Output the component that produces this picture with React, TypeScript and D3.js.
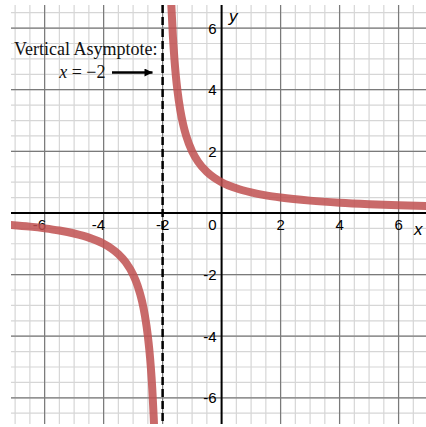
import React from "react";
import * as d3 from "d3";

const W = 426;
const H = 427;

// Data
const leftX = [-7.2, -6.5, -6, -5.5, -5, -4.5, -4, -3.75, -3.5, -3.25, -3, -2.85, -2.7, -2.6, -2.5, -2.45, -2.4, -2.35, -2.3, -2.27];
const leftY = [-0.385, -0.444, -0.5, -0.571, -0.667, -0.8, -1, -1.143, -1.333, -1.6, -2, -2.353, -2.857, -3.333, -4, -4.444, -5, -5.714, -6.667, -7.407];
const rightX = [-1.72, -1.7, -1.65, -1.6, -1.55, -1.5, -1.4, -1.3, -1.2, -1, -0.8, -0.5, -0.25, 0, 0.5, 1, 1.5, 2, 3, 4, 5, 6, 7];
const rightY = [7.143, 6.667, 5.714, 5, 4.444, 4, 3.333, 2.857, 2.5, 2, 1.667, 1.333, 1.143, 1, 0.8, 0.667, 0.571, 0.5, 0.4, 0.333, 0.286, 0.25, 0.222];
const asymptoteX = -2;
const xTicks = [-6, -4, -2, 2, 4, 6];
const yTicks = [-6, -4, -2, 2, 4, 6];
const minorStep = 0.5;
const majorStep = 2;

export default function App() {
  const plotL = 11, plotR = 426, plotT = 5, plotB = 424;
  const xMin = -7.14, xMax = 6.93, yMin = -6.85, yMax = 6.75;
  const x = d3.scaleLinear().domain([xMin, xMax]).range([plotL, plotR]);
  const y = d3.scaleLinear().domain([yMin, yMax]).range([plotB, plotT]);

  const minorX = d3.range(-7, 7.01, minorStep).filter((v) => v >= xMin && v <= xMax);
  const minorY = d3.range(-7, 7.01, minorStep).filter((v) => v >= yMin && v <= yMax);
  const majorX = minorX.filter((v) => Math.abs(v % majorStep) < 1e-9 && v !== 0);
  const majorY = minorY.filter((v) => Math.abs(v % majorStep) < 1e-9 && v !== 0);

  const line = d3
    .line<[number, number]>()
    .x((d) => x(d[0]))
    .y((d) => y(d[1]))
    .curve(d3.curveMonotoneX);

  const leftPts = leftX.map((v, i) => [v, leftY[i]] as [number, number]);
  const rightPts = rightX.map((v, i) => [v, rightY[i]] as [number, number]);

  const sans = "Liberation Sans, Arial, Helvetica, sans-serif";
  const serif = "Liberation Serif, Times New Roman, DejaVu Serif, serif";

  const xLabelAnchor = (v: number) => (v <= -4 ? "end" : "middle");
  const xLabelX = (v: number) => (v <= -4 ? x(v) + 1.5 : x(v));

  return (
    <svg
      width={W}
      height={H}
      style={{ position: "absolute", left: 0, top: 0, background: "#fff" }}
    >
      <defs>
        <clipPath id="plot">
          <rect x={plotL} y={plotT} width={plotR - plotL} height={plotB - plotT} />
        </clipPath>
        <marker id="arrow" viewBox="0 0 10 10" refX="10" refY="5" markerWidth="10" markerHeight="8" markerUnits="userSpaceOnUse" orient="auto">
          <path d="M0,0 L10,5 L0,10 z" fill="#000" />
        </marker>
      </defs>
      <g>
        {minorX.map((v) => (
          <line key={"mx" + v} x1={x(v)} x2={x(v)} y1={plotT} y2={plotB} stroke="#d6d6d6" strokeWidth={1.2} />
        ))}
        {minorY.map((v) => (
          <line key={"my" + v} x1={plotL} x2={plotR} y1={y(v)} y2={y(v)} stroke="#d6d6d6" strokeWidth={1.2} />
        ))}
        {majorX.map((v) => (
          <line key={"Mx" + v} x1={x(v)} x2={x(v)} y1={plotT} y2={plotB} stroke="#7a7a7a" strokeWidth={1.2} />
        ))}
        {majorY.map((v) => (
          <line key={"My" + v} x1={plotL} x2={plotR} y1={y(v)} y2={y(v)} stroke="#7a7a7a" strokeWidth={1.2} />
        ))}
        <line x1={plotL} x2={plotR} y1={y(0)} y2={y(0)} stroke="#000" strokeWidth={2} />
        <line x1={x(0)} x2={x(0)} y1={plotT} y2={plotB} stroke="#000" strokeWidth={2} />
      </g>
      <g style={{ fontFamily: sans }} fontSize={15} fill="#000">
        {xTicks.map((v) => (
          <text key={"xt" + v} x={xLabelX(v)} y={y(0) + 17.5} textAnchor={xLabelAnchor(v)}>
            {v}
          </text>
        ))}
        {yTicks.map((v) => (
          <text key={"yt" + v} x={x(0) - 5} y={y(v) + 5.5} textAnchor="end">
            {v}
          </text>
        ))}
        <text x={x(0) - 5} y={y(0) + 17.5} textAnchor="end">0</text>
        <text x={x(0) + 7.5} y={22} fontStyle="italic" fontSize={17}>y</text>
        <text x={414} y={235} fontStyle="italic" fontSize={17}>x</text>
      </g>
      <g clipPath="url(#plot)">
        <path d={line(leftPts) || ""} fill="none" stroke="#c05050" strokeOpacity={0.85} strokeWidth={8} />
        <path d={line(rightPts) || ""} fill="none" stroke="#c05050" strokeOpacity={0.85} strokeWidth={8} />
      </g>
      <line
        x1={x(asymptoteX)}
        x2={x(asymptoteX)}
        y1={plotT}
        y2={plotB}
        stroke="#000"
        strokeWidth={2.5}
        strokeDasharray="8,4"
      />
      <g style={{ fontFamily: serif }} fontSize={18} fill="#111">
        <text x={14} y={54.5}>Vertical Asymptote:</text>
        <text x={105.5} y={77.5} textAnchor="end">
          <tspan fontStyle="italic">x</tspan> = −2
        </text>
      </g>
      <line x1={112} x2={152.5} y1={72.5} y2={72.5} stroke="#000" strokeWidth={2.5} markerEnd="url(#arrow)" />
    </svg>
  );
}
